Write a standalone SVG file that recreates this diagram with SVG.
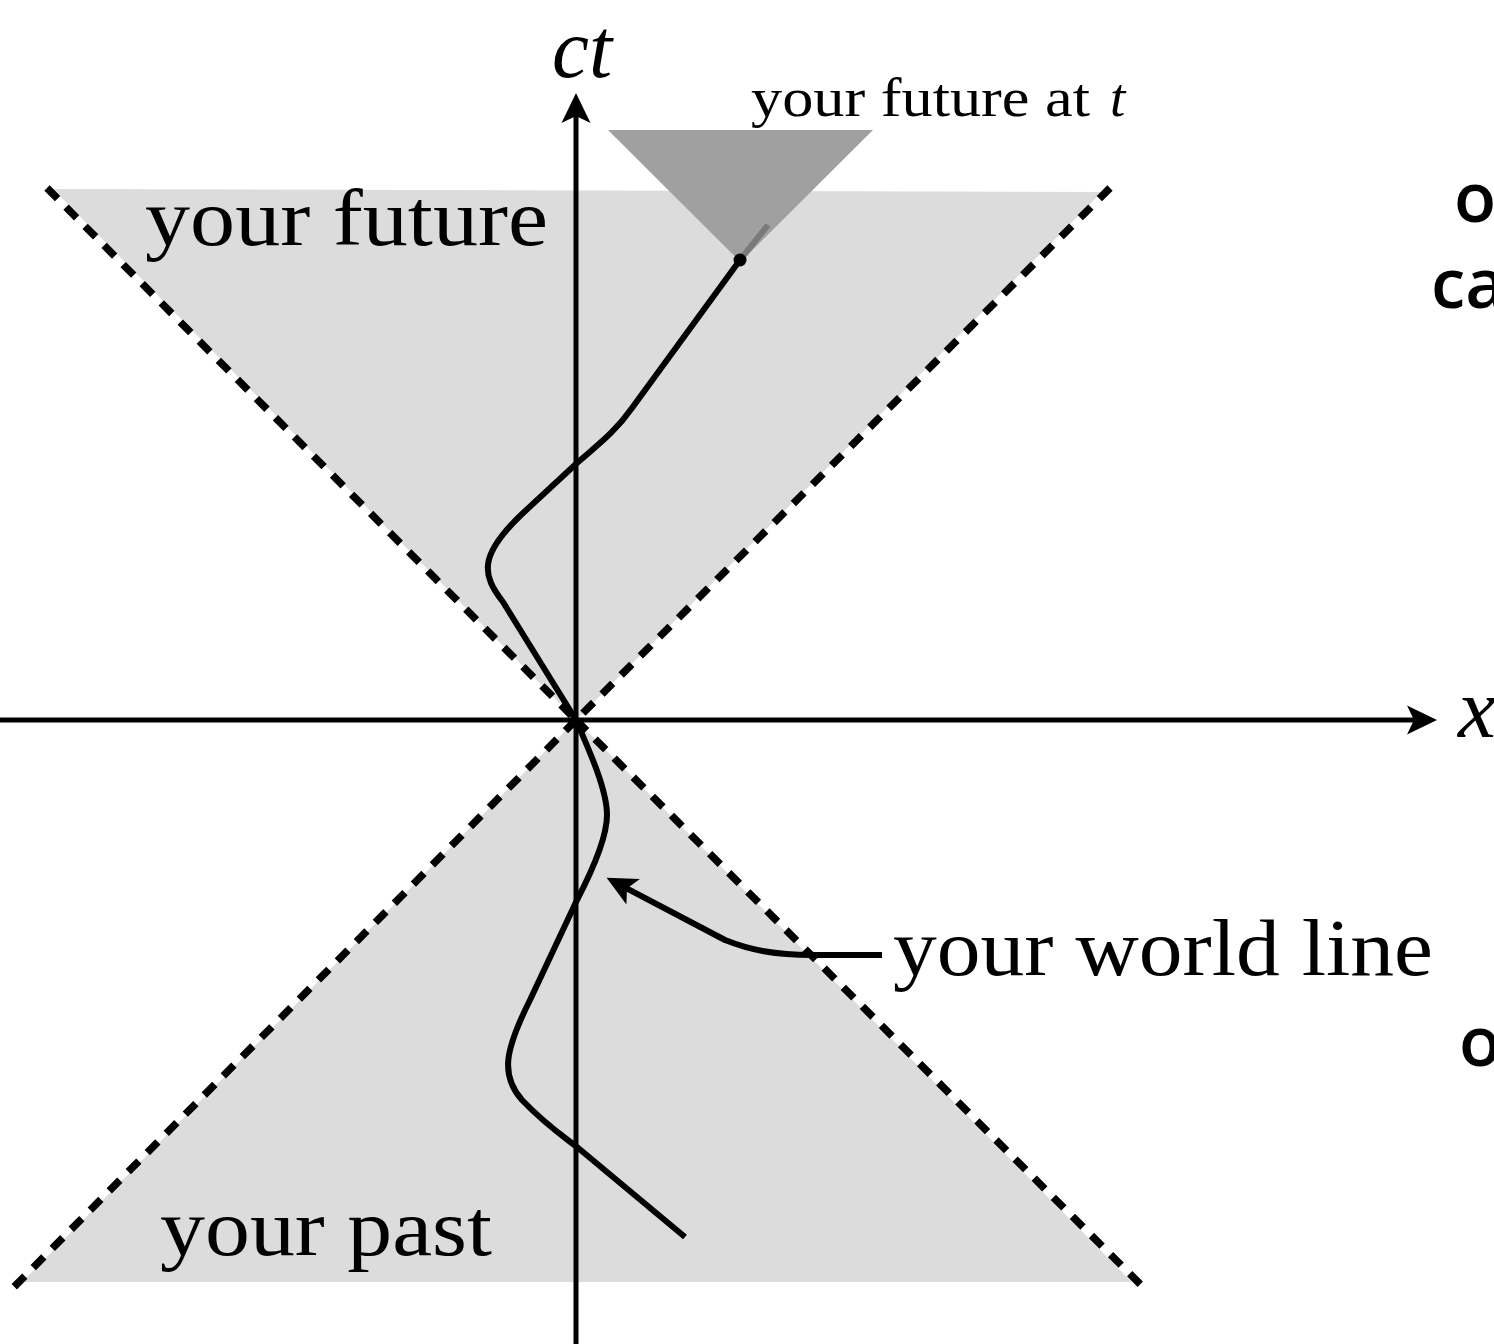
<svg xmlns="http://www.w3.org/2000/svg" width="1494" height="1344" viewBox="0 0 1494 1344">
<style>
.cone{fill:#dcdcdc;stroke:none}
.small{fill:#a0a0a0;stroke:none}
.dash{fill:none;stroke:#000;stroke-width:7.5;stroke-dasharray:15 12}
.axis{fill:none;stroke:#000;stroke-width:5}
.wl{fill:none;stroke:#000;stroke-width:6;stroke-linejoin:round}
.serif{font-family:"Liberation Serif","DejaVu Serif",serif;fill:#000}
.it{font-style:italic}
.sans{font-family:"Open Sans","Lato","Liberation Sans",sans-serif;font-weight:600;fill:#000;font-size:69px}
</style>
<defs>
<marker id="ah" markerUnits="userSpaceOnUse" markerWidth="40" markerHeight="40" viewBox="-15 -20 40 40" refX="0" refY="0" orient="auto">
<path d="M20,0 L-10,-14.5 L-3,0 L-10,14.5 Z" fill="#000"/>
</marker>
</defs>
<g id="regions">
<polygon class="cone" points="53,189 1102,192 576,720"/>
<polygon class="cone" points="576,720 1132,1282 22,1282"/>
<polygon class="small" points="608,130 873,130 740.5,262"/>
</g>
<g id="lightcone-edges">
<line class="dash" x1="47" y1="188" x2="576" y2="720"/>
<line class="dash" x1="1110" y1="188" x2="576" y2="720"/>
<line class="dash" x1="576" y1="720" x2="14" y2="1287"/>
<line class="dash" x1="576" y1="720" x2="1143" y2="1287"/>
</g>
<g id="connectors">
<line id="ct-axis" class="axis" x1="576" y1="1344" x2="576" y2="113" marker-end="url(#ah)"/>
<line id="x-axis" class="axis" x1="0" y1="720" x2="1417" y2="720" marker-end="url(#ah)"/>
<line x1="740" y1="260" x2="768" y2="225" stroke="#7a7a7a" stroke-width="6"/>
<path id="worldline" class="wl" d="M740,260 L632,408 C615,432 600,443 577,463 L522,514 C478,556 482,575 503,602 L576,720 C590,752 607,790 607,815 C607,840 590,875 577,900 L530,1000 C505,1050 500,1075 522,1100 C545,1124 560,1134 577,1147 L685,1237"/>
<path id="label-arrow" class="wl" d="M882,955 L812,955 C775,955 750,950 725,940 L624.3,887.1" marker-end="url(#ah)"/>
<circle cx="740" cy="260" r="6.5" fill="#000"/>
</g>
<g id="labels">
<text class="serif it" x="552" y="77" font-size="85" textLength="60" lengthAdjust="spacingAndGlyphs">ct</text>
<text class="serif it" x="1458" y="737" font-size="85">x</text>
<text class="serif" x="751" y="116" font-size="55" textLength="339" lengthAdjust="spacingAndGlyphs">your future at</text>
<text class="serif it" x="1110" y="116" font-size="55">t</text>
<text class="serif" x="145" y="245" font-size="80" textLength="403" lengthAdjust="spacingAndGlyphs">your future</text>
<text class="serif" x="160" y="1255" font-size="80" textLength="332" lengthAdjust="spacingAndGlyphs">your past</text>
<text class="serif" x="893" y="975" font-size="80" textLength="540" lengthAdjust="spacingAndGlyphs">your world line</text>
<text class="sans" x="1454" y="222">o</text>
<text class="sans" x="1431" y="308">ca</text>
<text class="sans" x="1459" y="1066">o</text>
</g>
</svg>
